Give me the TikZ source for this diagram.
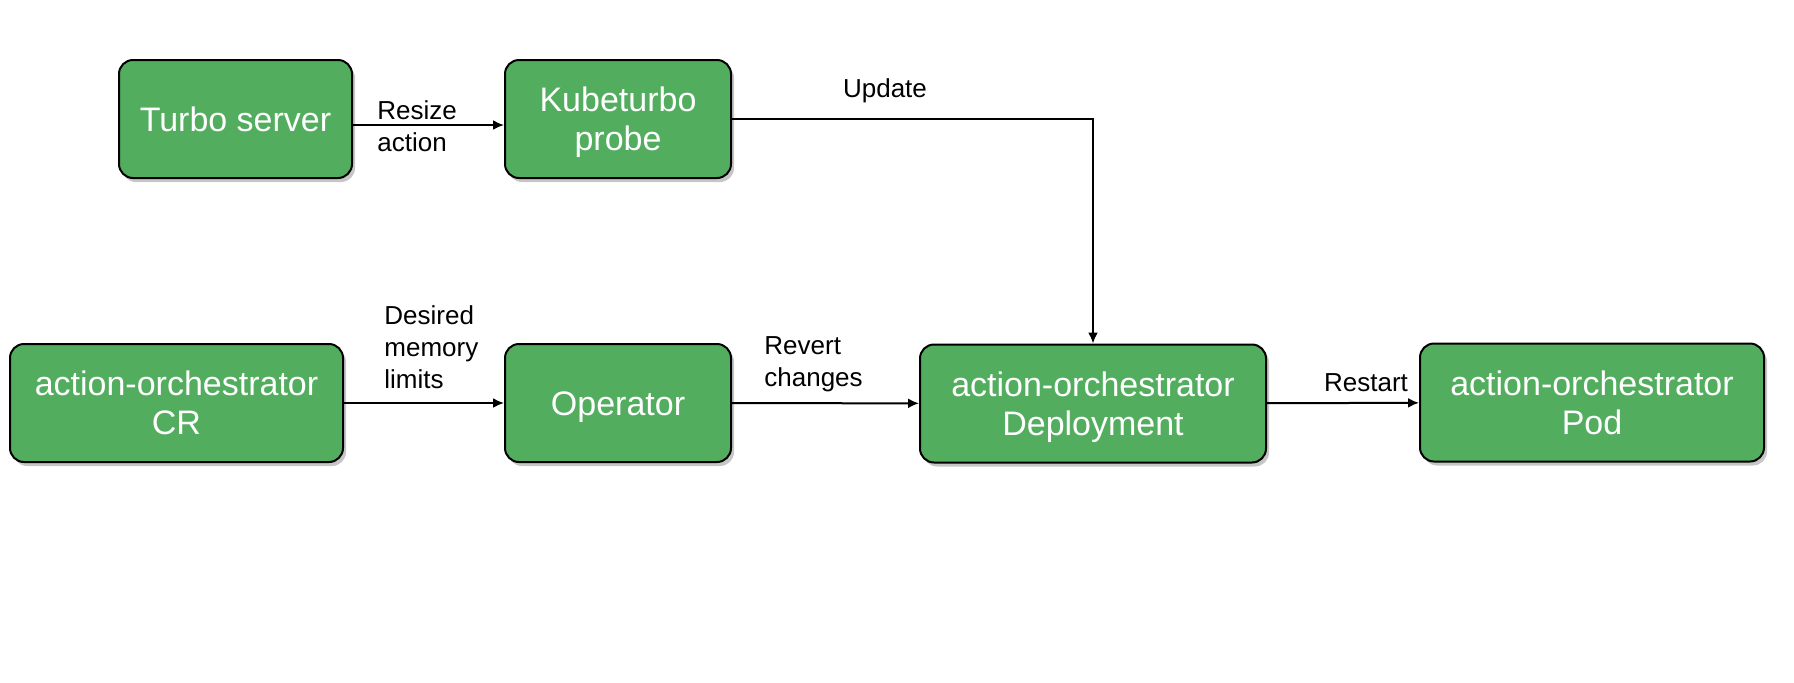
\documentclass[tikz,border=0pt]{standalone}
\usepackage{fontspec}
\setmainfont{Liberation Sans}
\usetikzlibrary{arrows.meta,shadows,calc,positioning}
\definecolor{boxgreen}{RGB}{82,174,94}
\newcommand{\bx}{\rule[-3.6pt]{0pt}{19.5pt}}

\tikzset{
  box/.style={draw=black, line width=1pt, fill=boxgreen, rounded corners=7pt,
    text=white, font=\fontsize{17}{19.5}\selectfont, align=center,
    minimum height=59pt, inner sep=0pt,
    drop shadow={opacity=0.45, shadow xshift=1.5pt, shadow yshift=-2pt}},
  lbl/.style={font=\fontsize{13}{16}\selectfont, align=left, inner sep=0pt},
  flow/.style={-{Latex[length=5.5pt,width=5pt]}, line width=1pt}
}

\begin{document}
\begin{tikzpicture}[x=0.5pt, y=-0.5pt]
		\useasboundingbox (0,0) rectangle (1794,682);
% top row
\node[box, minimum width=116.5pt] (turbo) at (235.5, 119) {\bx Turbo server};
\node[box, minimum width=113pt] (kube) at (618, 119) {\bx Kubeturbo\\\bx probe};
% bottom row
\node[box, minimum width=166.5pt] (cr) at (176.5, 403) {\bx action-orchestrator\\\bx CR};
\node[box, minimum width=113pt] (oper) at (618, 403) {\bx Operator};
\node[box, minimum width=173pt] (deploy) at (1093, 403.5) {\bx action-orchestrator\\\bx Deployment};
\node[box, minimum width=172pt] (pod) at (1592, 402.5) {\bx action-orchestrator\\\bx Pod};
% labels
\node[lbl, anchor=west] (resize) at (377, 126) {Resize\\action};
\node[lbl] (update) at (885, 91) {Update};
\node[lbl, anchor=west] (desired) at (384, 347) {Desired\\memory\\limits};
\node[lbl, anchor=west] (revert) at (764, 364) {Revert\\changes};
\node[lbl] (restart) at (1366, 383) {Restart};
% connectors
\draw[flow] ([yshift=-3pt]turbo.east) -- ([yshift=-3pt]kube.west);
\draw[flow] (kube.east) -| (deploy.north);
\draw[flow] (cr) -- (oper);
\draw[flow] (oper) -- (deploy);
\draw[flow] (deploy) -- (pod);
\end{tikzpicture}
\end{document}
